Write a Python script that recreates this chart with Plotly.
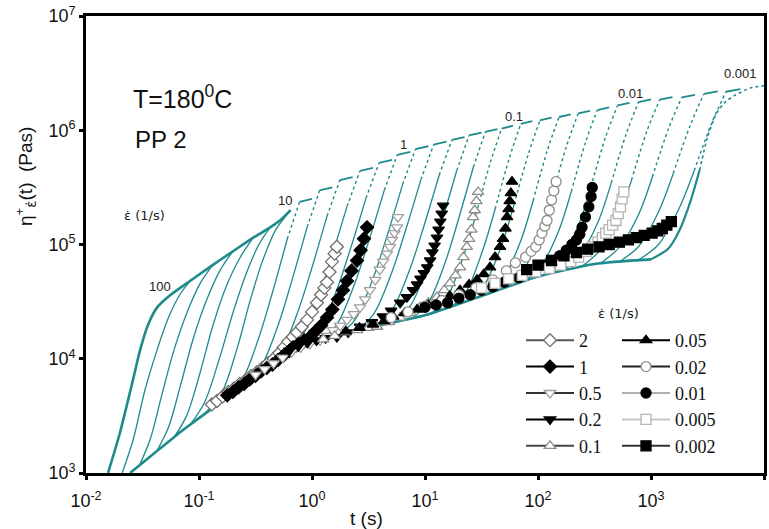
import plotly.graph_objects as go

TEAL = "#1e8a8c"

# ---------------- values (log10 t [s], log10 eta [Pa s]) ----------------
# linear viscoelastic start-up envelope (lowest thick curve)
lve_log_t = [-1.61, -1.45, -1.3, -1.15, -1.0, -0.85, -0.7, -0.5, -0.3, 0.0, 0.5, 1.0, 1.5, 2.0, 2.5, 3.0]
lve_log_eta = [3.0, 3.13, 3.25, 3.37, 3.48, 3.59, 3.70, 3.85, 3.98, 4.13, 4.27, 4.38, 4.55, 4.72, 4.83, 4.87]

# model curve for 100 1/s (upper thick curve ending at the "10" label)
c100_log_t = [-1.805, -1.70, -1.60, -1.52, -1.45, -1.37, -1.25, -1.08, -0.88, -0.70, -0.52, -0.37, -0.26, -0.19]
c100_log_eta = [3.0, 3.35, 3.75, 4.08, 4.30, 4.45, 4.56, 4.68, 4.82, 4.94, 5.06, 5.15, 5.23, 5.30]

# model curve for 0.001 1/s (rightmost)
c0001_log_t = [3.0, 3.15, 3.25, 3.35, 3.43, 3.50, 3.58, 3.66, 3.75, 3.88, 4.0]
c0001_log_eta = [4.87, 4.96, 5.12, 5.38, 5.65, 5.94, 6.15, 6.25, 6.31, 6.37, 6.39]

# model curves for the strain rates in between (68 ... 0.0015 1/s)
model_log_t = [
    [-1.68, -1.58, -1.48, -1.37, -1.27, -1.17, -1.08],
    [-1.53, -1.43, -1.33, -1.22, -1.10, -0.99, -0.88],
    [-1.38, -1.27, -1.16, -1.05, -0.93, -0.81, -0.70],
    [-1.23, -1.11, -0.99, -0.88, -0.76, -0.64, -0.52],
    [-1.08, -0.95, -0.82, -0.70, -0.58, -0.47, -0.37],
    [-0.95, -0.80, -0.66, -0.55, -0.44, -0.32, -0.19],
    [-0.783, -0.626, -0.470, -0.352, -0.219, -0.110, 0.0],
    [-0.617, -0.458, -0.298, -0.179, -0.043, 0.068, 0.18],
    [-0.45, -0.288, -0.126, -0.004, 0.133, 0.247, 0.36],
    [-0.283, -0.118, 0.046, 0.170, 0.310, 0.425, 0.54],
    [-0.117, 0.048, 0.214, 0.338, 0.478, 0.594, 0.71],
    [0.05, 0.214, 0.378, 0.501, 0.640, 0.755, 0.87],
    [0.217, 0.380, 0.542, 0.664, 0.802, 0.916, 1.03],
    [0.383, 0.544, 0.706, 0.827, 0.964, 1.077, 1.19],
    [0.55, 0.71, 0.87, 0.99, 1.126, 1.238, 1.35],
    [0.717, 0.874, 1.030, 1.148, 1.281, 1.390, 1.50],
    [0.883, 1.034, 1.186, 1.299, 1.428, 1.534, 1.64],
    [1.05, 1.196, 1.342, 1.452, 1.576, 1.678, 1.78],
    [1.217, 1.364, 1.510, 1.620, 1.745, 1.847, 1.95],
    [1.383, 1.530, 1.678, 1.788, 1.914, 2.017, 2.12],
    [1.55, 1.698, 1.846, 1.957, 2.083, 2.186, 2.29],
    [1.717, 1.866, 2.014, 2.126, 2.252, 2.356, 2.46],
    [1.883, 2.032, 2.182, 2.294, 2.421, 2.525, 2.63],
    [2.05, 2.202, 2.354, 2.468, 2.597, 2.704, 2.81],
    [2.217, 2.374, 2.530, 2.648, 2.781, 2.890, 3.00],
    [2.383, 2.544, 2.706, 2.827, 2.964, 3.077, 3.19],
    [2.55, 2.718, 2.886, 3.012, 3.155, 3.272, 3.39],
    [2.717, 2.892, 3.066, 3.197, 3.346, 3.468, 3.59],
    [2.883, 3.064, 3.246, 3.382, 3.536, 3.663, 3.79],
]
model_log_eta = [
    [3.0, 3.30, 3.72, 4.08, 4.36, 4.56, 4.68],
    [3.06, 3.30, 3.68, 4.08, 4.42, 4.66, 4.82],
    [3.18, 3.40, 3.78, 4.18, 4.52, 4.78, 4.94],
    [3.30, 3.50, 3.88, 4.28, 4.63, 4.88, 5.06],
    [3.42, 3.62, 4.00, 4.40, 4.75, 5.00, 5.15],
    [3.52, 3.70, 4.10, 4.50, 4.85, 5.13, 5.30],
    [3.64, 3.798, 4.186, 4.573, 5.048, 5.374, 5.40],
    [3.76, 3.917, 4.299, 4.682, 5.152, 5.474, 5.50],
    [3.88, 4.034, 4.41, 4.786, 5.248, 5.564, 5.59],
    [3.99, 4.141, 4.511, 4.88, 5.334, 5.645, 5.67],
    [4.07, 4.22, 4.588, 4.955, 5.406, 5.715, 5.74],
    [4.14, 4.29, 4.658, 5.025, 5.476, 5.785, 5.81],
    [4.19, 4.34, 4.708, 5.075, 5.526, 5.835, 5.86],
    [4.24, 4.389, 4.755, 5.12, 5.568, 5.875, 5.90],
    [4.28, 4.429, 4.795, 5.16, 5.608, 5.915, 5.94],
    [4.32, 4.469, 4.835, 5.20, 5.648, 5.955, 5.98],
    [4.35, 4.499, 4.865, 5.23, 5.678, 5.985, 6.01],
    [4.39, 4.539, 4.902, 5.265, 5.71, 6.015, 6.04],
    [4.44, 4.588, 4.948, 5.309, 5.752, 6.055, 6.08],
    [4.51, 4.656, 4.992, 5.349, 5.79, 6.086, 6.11],
    [4.567, 4.712, 5.029, 5.383, 5.825, 6.116, 6.14],
    [4.624, 4.767, 5.073, 5.423, 5.861, 6.147, 6.17],
    [4.68, 4.821, 5.117, 5.462, 5.896, 6.177, 6.20],
    [4.73, 4.871, 5.157, 5.502, 5.938, 6.217, 6.24],
    [4.768, 4.908, 5.194, 5.537, 5.970, 6.247, 6.27],
    [4.804, 4.944, 5.221, 5.562, 5.993, 6.268, 6.29],
    [4.834, 4.972, 5.254, 5.591, 6.015, 6.288, 6.31],
    [4.847, 4.985, 5.284, 5.621, 6.041, 6.318, 6.34],
    [4.861, 4.998, 5.311, 5.646, 6.06, 6.337, 6.36],
]

# envelope labels (strain rate, 1/s)
envelope_labels = ["100", "10", "1", "0.1", "0.01", "0.001"]

# experimental series
exp_names = ["2", "1", "0.5", "0.2", "0.1", "0.05", "0.02", "0.01", "0.005", "0.002"]
exp_log_t = [
    [-0.886, -0.84, -0.79, -0.74, -0.69, -0.64, -0.59, -0.54, -0.49, -0.44, -0.39, -0.34, -0.29, -0.25,
     -0.21, -0.17, -0.133, -0.09, -0.044, 0.0, 0.044, 0.08, 0.11, 0.133, 0.155, 0.177, 0.20, 0.22],
    [-0.75, -0.70, -0.65, -0.60, -0.55, -0.50, -0.45, -0.40, -0.35, -0.30, -0.25, -0.20, -0.168, -0.12,
     -0.07, -0.018, 0.03, 0.08, 0.133, 0.18, 0.23, 0.274, 0.31, 0.35, 0.398, 0.43, 0.46, 0.487],
    [-0.5, -0.42, -0.34, -0.26, -0.18, -0.10, -0.02, 0.071, 0.13, 0.186, 0.25, 0.31, 0.37, 0.425, 0.47,
     0.513, 0.56, 0.60, 0.63, 0.664, 0.69, 0.708, 0.73, 0.752, 0.76],
    [-0.2, -0.12, -0.04, 0.04, 0.12, 0.22, 0.32, 0.425, 0.53, 0.628, 0.70, 0.78, 0.84, 0.894, 0.93, 0.96,
     0.99, 1.02, 1.045, 1.065, 1.085, 1.106, 1.12, 1.135, 1.148, 1.16],
    [0.1, 0.2, 0.3, 0.4, 0.5, 0.575, 0.68, 0.78, 0.87, 0.956, 1.03, 1.106, 1.17, 1.22, 1.27, 1.31, 1.34,
     1.37, 1.39, 1.41, 1.425, 1.44, 1.455, 1.47],
    [0.3, 0.42, 0.54, 0.64, 0.717, 0.82, 0.93, 1.03, 1.13, 1.22, 1.31, 1.39, 1.46, 1.52, 1.575, 1.62,
     1.664, 1.69, 1.712, 1.726, 1.74, 1.75, 1.76, 1.77],
    [0.7, 0.85, 1.0, 1.15, 1.3, 1.45, 1.6, 1.72, 1.80, 1.89, 1.94, 1.98, 2.01, 2.035, 2.06, 2.08, 2.10,
     2.12, 2.14, 2.16],
    [1.0, 1.1, 1.2, 1.3, 1.4, 1.5, 1.6, 1.7, 1.83, 1.98, 2.06, 2.12, 2.19, 2.25, 2.30, 2.34, 2.37, 2.39,
     2.42, 2.45, 2.47, 2.48],
    [1.5, 1.62, 1.74, 1.86, 1.98, 2.1, 2.2, 2.29, 2.36, 2.43, 2.48, 2.53, 2.57, 2.60, 2.63, 2.66, 2.69,
     2.71, 2.73, 2.745, 2.76],
    [1.9, 2.0, 2.12, 2.23, 2.34, 2.44, 2.54, 2.63, 2.72, 2.80, 2.87, 2.94, 3.01, 3.06, 3.10, 3.14, 3.18],
]
exp_log_eta = [
    [3.60, 3.63, 3.67, 3.71, 3.74, 3.78, 3.81, 3.85, 3.88, 3.92, 3.96, 4.0, 4.05, 4.10, 4.15, 4.19, 4.23,
     4.28, 4.34, 4.41, 4.49, 4.56, 4.62, 4.67, 4.76, 4.85, 4.92, 4.98],
    [3.68, 3.71, 3.75, 3.78, 3.82, 3.85, 3.89, 3.92, 3.95, 3.99, 4.03, 4.07, 4.10, 4.13, 4.16, 4.19, 4.24,
     4.29, 4.36, 4.43, 4.52, 4.60, 4.68, 4.77, 4.86, 4.95, 5.05, 5.15],
    [3.86, 3.91, 3.96, 4.01, 4.06, 4.10, 4.13, 4.16, 4.20, 4.25, 4.29, 4.34, 4.39, 4.45, 4.52, 4.60, 4.69,
     4.78, 4.85, 4.92, 4.98, 5.04, 5.10, 5.15, 5.24],
    [4.07, 4.11, 4.14, 4.16, 4.18, 4.19, 4.23, 4.28, 4.32, 4.37, 4.42, 4.49, 4.54, 4.60, 4.65, 4.70, 4.75,
     4.80, 4.86, 4.93, 4.99, 5.06, 5.13, 5.20, 5.27, 5.34],
    [4.17, 4.20, 4.23, 4.25, 4.27, 4.28, 4.32, 4.36, 4.40, 4.45, 4.49, 4.54, 4.60, 4.66, 4.73, 4.80, 4.89,
     4.98, 5.05, 5.13, 5.24, 5.30, 5.38, 5.46],
    [4.24, 4.27, 4.30, 4.33, 4.37, 4.40, 4.43, 4.47, 4.51, 4.55, 4.60, 4.65, 4.69, 4.74, 4.80, 4.89, 4.98,
     5.05, 5.14, 5.24, 5.31, 5.38, 5.45, 5.55],
    [4.36, 4.41, 4.46, 4.51, 4.56, 4.62, 4.69, 4.77, 4.84, 4.89, 4.94, 4.98, 5.04, 5.10, 5.16, 5.21, 5.30,
     5.39, 5.47, 5.55],
    [4.45, 4.47, 4.49, 4.53, 4.56, 4.60, 4.63, 4.67, 4.71, 4.78, 4.82, 4.86, 4.90, 4.95, 5.00, 5.04, 5.09,
     5.15, 5.24, 5.33, 5.42, 5.50],
    [4.62, 4.66, 4.70, 4.73, 4.76, 4.79, 4.82, 4.85, 4.89, 4.94, 4.98, 5.02, 5.06, 5.10, 5.13, 5.17, 5.21,
     5.27, 5.33, 5.40, 5.46],
    [4.78, 4.82, 4.86, 4.90, 4.93, 4.96, 4.98, 5.00, 5.02, 5.04, 5.06, 5.08, 5.10, 5.12, 5.14, 5.17, 5.20],
]

x_tick_exponents = [-2, -1, 0, 1, 2, 3, 4]
y_tick_exponents = [3, 4, 5, 6, 7]

# ---------------- styles ----------------
exp_symbol = ["diamond", "diamond", "triangle-down", "triangle-down", "triangle-up", "triangle-up",
              "circle", "circle", "square", "square"]
exp_fill = ["white", "black", "white", "black", "white", "black", "white", "black", "white", "black"]
exp_edge = ["#6e6e6e", "black", "#a0a0a0", "black", "#8c8c8c", "black", "#8c8c8c", "black", "#b4b4b4", "black"]
leg_line = ["#555555", "black", "#333333", "black", "#444444", "black", "#222222", "#b0b0b0", "#c8c8c8", "#333333"]


def pw(vals):
    return [10 ** v for v in vals]


fig = go.Figure()

# model curves: solid lower part, dotted upper part, short solid plateau
solid_x, solid_y, dot_x, dot_y, pl_x, pl_y = [], [], [], [], [], []
for i, (lt, le) in enumerate(zip(model_log_t, model_log_eta)):
    x = pw(lt)
    y = pw(le)
    if i < 6:
        solid_x += x + [None]
        solid_y += y + [None]
        continue
    s = 4 if i < 17 else 3
    solid_x += x[:s + 1] + [None]
    solid_y += y[:s + 1] + [None]
    dot_x += x[s:6] + [None]
    dot_y += y[s:6] + [None]
    pl_x += x[5:] + [None]
    pl_y += y[5:] + [None]

fig.add_trace(go.Scatter(x=solid_x, y=solid_y, mode="lines",
                         line=dict(color=TEAL, width=1.3, shape="spline", smoothing=0.9),
                         showlegend=False, hoverinfo="skip"))
fig.add_trace(go.Scatter(x=dot_x, y=dot_y, mode="lines",
                         line=dict(color=TEAL, width=1.4, dash="dot", shape="spline", smoothing=0.9),
                         showlegend=False, hoverinfo="skip"))
fig.add_trace(go.Scatter(x=pl_x, y=pl_y, mode="lines", line=dict(color=TEAL, width=1.8),
                         showlegend=False, hoverinfo="skip"))

# thick curves
fig.add_trace(go.Scatter(x=pw(lve_log_t), y=pw(lve_log_eta), mode="lines",
                         line=dict(color=TEAL, width=2.6, shape="spline", smoothing=0.6),
                         showlegend=False, hoverinfo="skip"))
fig.add_trace(go.Scatter(x=pw(c100_log_t), y=pw(c100_log_eta), mode="lines",
                         line=dict(color=TEAL, width=2.6, shape="spline", smoothing=0.6),
                         showlegend=False, hoverinfo="skip"))
fig.add_trace(go.Scatter(x=pw(c0001_log_t[:5]), y=pw(c0001_log_eta[:5]), mode="lines",
                         line=dict(color=TEAL, width=2.2, shape="spline", smoothing=0.6),
                         showlegend=False, hoverinfo="skip"))
fig.add_trace(go.Scatter(x=pw(c0001_log_t[4:]), y=pw(c0001_log_eta[4:]), mode="lines",
                         line=dict(color=TEAL, width=1.6, dash="dot", shape="spline", smoothing=0.6),
                         showlegend=False, hoverinfo="skip"))

# experimental data
for i, name in enumerate(exp_names):
    fig.add_trace(go.Scatter(
        x=pw(exp_log_t[i]), y=pw(exp_log_eta[i]), mode="markers",
        marker=dict(symbol=exp_symbol[i], size=10, color=exp_fill[i], line=dict(color=exp_edge[i], width=1.3)),
        showlegend=False, hoverinfo="skip"))

# legend entries (two columns)
for i, name in enumerate(exp_names):
    fig.add_trace(go.Scatter(
        x=[None], y=[None], mode="lines+markers", name=name,
        line=dict(color=leg_line[i], width=2),
        marker=dict(symbol=exp_symbol[i], size=10, color=exp_fill[i], line=dict(color=exp_edge[i], width=1.3)),
        legend="legend" if i < 5 else "legend2"))

L, R, T, B = 86, 5, 16, 56
W, H = 769, 529
pwid, phei = W - L - R, H - T - B


def px(xp):
    return (xp - L) / pwid


def py(yp):
    return (H - B - yp) / phei


SANS = "Liberation Sans, Arial"
EPS_FONT = "DejaVu Sans"


def note(text, xp, yp, size, family=SANS, xanchor="center", yanchor="middle", angle=0, color="#1a1a1a"):
    return dict(text=text, x=px(xp), y=py(yp), xref="paper", yref="paper", showarrow=False,
                xanchor=xanchor, yanchor=yanchor, textangle=angle,
                font=dict(family=family, size=size, color=color))


ann = []
for txt, (xx, yy) in zip(envelope_labels, [(160, 286), (285, 200), (403, 144), (514, 116), (630, 93), (740, 74)]):
    ann.append(note(txt, xx, yy, 13, color="#222"))
ann.append(note("ε̇ (1/s)", 144, 215, 13, family=EPS_FONT, color="#222"))
ann.append(note("ε̇ (1/s)", 618, 313, 13, family=EPS_FONT, color="#222"))
ann.append(note("T=180<sup>0</sup>C", 131, 97, 25, xanchor="left", color="#111"))
ann.append(note("PP 2", 133, 139, 24, xanchor="left", color="#111"))
ann.append(note("η<sup>+</sup><sub><span style='font-family:DejaVu Sans'>ε̇</span></sub>(t)  (Pas)",
                25, 176, 19, angle=-90, color="#111"))
ann.append(note("t (s)", 366, 518, 19, color="#111"))

tick_font = dict(family=SANS, size=18, color="#111")
axis_common = dict(type="log", showgrid=False, zeroline=False, showline=True, linecolor="black", linewidth=2.6,
                   mirror=True, ticks="outside", ticklen=4, tickwidth=3, tickcolor="black", tickfont=tick_font,
                   automargin=False)

legend_common = dict(bgcolor="rgba(0,0,0,0)", borderwidth=0, itemwidth=48, tracegroupgap=0,
                     font=dict(family="Times New Roman, Liberation Serif, serif", size=18, color="#111"),
                     xanchor="left", yanchor="top", itemclick=False, itemdoubleclick=False)

fig.update_layout(
    width=W, height=H, margin=dict(l=L, r=R, t=T, b=B),
    paper_bgcolor="white", plot_bgcolor="white", template="none",
    xaxis=dict(range=[-2, 4], tickvals=[10 ** e for e in x_tick_exponents], ticklabelstandoff=6,
               ticktext=["10<sup>%d</sup>" % e for e in x_tick_exponents], **axis_common),
    yaxis=dict(range=[3, 7], tickvals=[10 ** e for e in y_tick_exponents],
               ticktext=["10<sup>%d</sup>" % e for e in y_tick_exponents], **axis_common),
    legend=dict(x=px(521), y=py(322), **legend_common),
    legend2=dict(x=px(617), y=py(322), **legend_common),
    annotations=ann,
)

fig.write_html("out.html")
